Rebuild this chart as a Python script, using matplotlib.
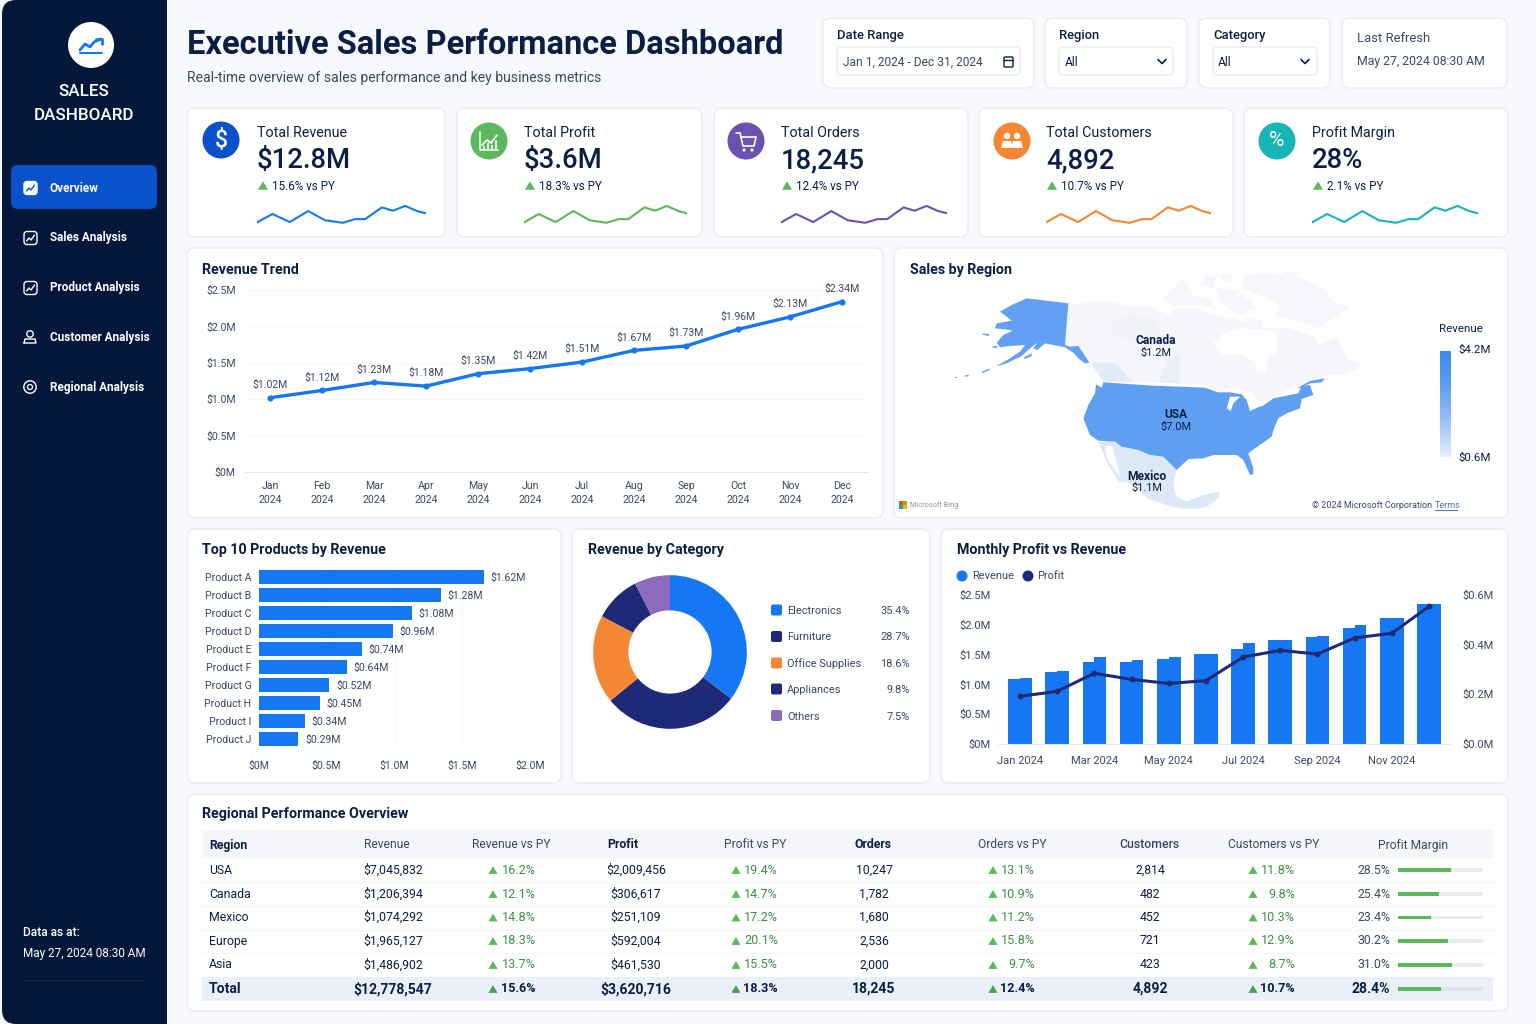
import numpy as np
import matplotlib
matplotlib.use('Agg')
import matplotlib.pyplot as plt
from matplotlib.patches import FancyBboxPatch, Circle, Polygon, Rectangle
from matplotlib.colors import LinearSegmentedColormap

plt.rcParams['font.family'] = ['Roboto', 'DejaVu Sans']

W = 1536
H = 1024

NAVY = '#0b1f45'
TEXT = '#3c4862'
BLUE = '#1677f2'
DARK = '#1e2a78'
GREEN = '#5cb85c'

# kpi cards
kpi_labels = ['Total Revenue', 'Total Profit', 'Total Orders', 'Total Customers', 'Profit Margin']
kpi_values = ['$12.8M', '$3.6M', '18,245', '4,892', '28%']
kpi_deltas = ['15.6% vs PY', '18.3% vs PY', '12.4% vs PY', '10.7% vs PY', '2.1% vs PY']
kpi_colors = [BLUE, '#5cb85c', '#6b52ae', '#f58634', '#17b5b5']
kpi_icon_colors = ['#0a52cc', '#5cb85c', '#6b52ae', '#f58634', '#17b5b5']
spark_x = [0, 46, 98, 153, 203, 256, 293, 323, 373, 406, 443, 478, 505]
spark_y = [7, 30, 8, 38, 13, 6, 16, 16, 48, 39, 52, 38, 32]

# revenue trend
months = ['Jan', 'Feb', 'Mar', 'Apr', 'May', 'Jun', 'Jul', 'Aug', 'Sep', 'Oct', 'Nov', 'Dec']
trend_values = [1.02, 1.12, 1.23, 1.18, 1.35, 1.42, 1.51, 1.67, 1.73, 1.96, 2.13, 2.34]
trend_ticks = [0, 0.5, 1.0, 1.5, 2.0, 2.5]
trend_tick_labels = ['$0M', '$0.5M', '$1.0M', '$1.5M', '$2.0M', '$2.5M']

# top products
products = ['Product A', 'Product B', 'Product C', 'Product D', 'Product E',
            'Product F', 'Product G', 'Product H', 'Product I', 'Product J']
product_bars = [1.66, 1.34, 1.13, 0.99, 0.76, 0.65, 0.52, 0.45, 0.34, 0.29]
product_labels = ['$1.62M', '$1.28M', '$1.08M', '$0.96M', '$0.74M',
                  '$0.64M', '$0.52M', '$0.45M', '$0.34M', '$0.29M']
product_ticks = [0, 0.5, 1.0, 1.5, 2.0]
product_tick_labels = ['$0M', '$0.5M', '$1.0M', '$1.5M', '$2.0M']

# category donut
categories = ['Electronics', 'Furniture', 'Office Supplies', 'Appliances', 'Others']
category_share = [35.4, 28.7, 18.6, 9.8, 7.5]
category_colors = [BLUE, DARK, '#f58634', DARK, '#8e6bbf']

# monthly profit vs revenue, the bars have a small step on top
revenue_left = [1.09, 1.20, 1.38, 1.37, 1.43, 1.51, 1.60, 1.74, 1.80, 1.95, 2.12, 2.35]
revenue_right = [1.11, 1.22, 1.46, 1.41, 1.46, 1.51, 1.70, 1.75, 1.81, 2.00, 2.12, 2.35]
profit = [0.192, 0.212, 0.285, 0.260, 0.244, 0.255, 0.350, 0.377, 0.362, 0.427, 0.446, 0.554]
monthly_left_labels = ['$0M', '$0.5M', '$1.0M', '$1.5M', '$2.0M', '$2.5M']
monthly_right_labels = ['$0.0M', '$0.2M', '$0.4M', '$0.6M']

# table
table_regions = ['USA', 'Canada', 'Mexico', 'Europe', 'Asia', 'Total']
table_revenue = ['$7,045,832', '$1,206,394', '$1,074,292', '$1,965,127', '$1,486,902', '$12,778,547']
table_rev_py = ['16.2%', '12.1%', '14.8%', '18.3%', '13.7%', '15.6%']
table_profit = ['$2,009,456', '$306,617', '$251,109', '$592,004', '$461,530', '$3,620,716']
table_profit_py = ['19.4%', '14.7%', '17.2%', '20.1%', '15.5%', '18.3%']
table_orders = ['10,247', '1,782', '1,680', '2,536', '2,000', '18,245']
table_orders_py = ['13.1%', '10.9%', '11.2%', '15.8%', '9.7%', '12.4%']
table_customers = ['2,814', '482', '452', '721', '423', '4,892']
table_customers_py = ['11.8%', '9.8%', '10.3%', '12.9%', '8.7%', '10.7%']
table_margin = ['28.5%', '25.4%', '23.4%', '30.2%', '31.0%', '28.4%']
margin_fill = [0.62, 0.485, 0.39, 0.59, 0.635, 0.51]

# map outlines, three crops with their own origin
alaska_shape = [(230,85),(355,100),(345,225),(360,230),(385,228),(400,250),(418,278),(405,280),(385,265),(370,248),
                (345,232),(310,225),(285,220),(262,240),(250,235),(262,218),(240,235),(215,258),(170,280),(135,290),
                (175,268),(210,245),(225,225),(180,228),(150,232),(140,218),(160,195),(188,182),(165,178),(135,175),
                (140,160),(185,152),(170,140),(150,125),(185,105)]
alaska_islands = [[(98,190),(118,193),(116,198),(98,194)],
                  [(222,262),(245,250),(245,258),(224,267)],
                  [(95,305),(118,296),(119,300),(97,309)],
                  [(127,230),(142,227),(142,233),(128,234)],
                  [(15,321),(22,321),(22,325),(15,325)],
                  [(44,316),(56,315),(56,319),(44,320)]]
canada_shape = [(25,118),(90,110),(150,108),(210,125),(270,125),(330,150),(350,130),(400,130),(460,150),(500,160),
                (560,170),(590,185),(650,190),(690,190),(760,215),(775,240),(830,215),(860,280),(900,295),(895,310),
                (850,330),(800,330),(740,350),(700,370),(650,385),(610,415),(580,400),(520,380),(470,375),(430,360),
                (290,352),(130,350),(85,290),(50,250),(15,240)]
hudson_shape = [(460,235),(490,205),(540,190),(620,195),(650,200),(650,260),(620,280),(620,320),(590,325),(585,290),
                (540,270),(480,270)]
arctic_shapes = [[(310,100),(370,40),(400,90),(440,100),(470,130),(410,120),(340,120)],
                 [(430,40),(470,30),(460,70),(420,60)],
                 [(470,70),(530,75),(590,130),(540,150),(480,110)],
                 [(545,40),(590,25),(700,30),(790,70),(820,110),(870,130),(800,170),(780,190),(720,170),(650,150),
                  (660,120),(600,90),(550,70)],
                 [(480,30),(520,25),(510,50),(490,50)],
                 [(670,20),(715,25),(690,35)],
                 [(560,160),(610,165),(600,185),(570,190)]]
bc_shape = [(95,295),(165,295),(218,352),(130,350)]
sask_shape = [(295,352),(325,280),(362,265),(358,355)]
alberta_shape = [(150,175),(210,150),(290,165),(300,200),(240,240),(160,210)]
usa_shape = [(78,28),(95,38),(100,22),(250,32),(405,38),(445,52),(490,42),(545,55),(575,95),(610,70),
             (650,62),(685,55),(695,32),(720,30),(730,60),(695,72),(690,100),(650,115),(625,130),(610,165),
             (605,185),(555,220),(535,235),(550,280),(550,298),(540,300),(520,255),(500,240),(430,240),(400,250),
             (355,252),(320,285),(300,265),(280,245),(240,240),(205,225),(155,215),(135,200),(85,197),(60,180),
             (40,130),(55,90),(75,55)]
lawrence_shape = [(680,40),(720,18),(765,10),(755,22),(720,25),(690,38)]
lake_shapes = [[(480,65),(510,65),(490,85),(482,108),(470,100)],
               [(445,52),(490,38),(550,55),(575,92),(540,108),(530,75),(515,58),(480,52)]]
mexico_shape = [(85,200),(135,200),(155,215),(205,225),(240,240),(280,245),(300,265),(320,285),(310,330),(320,365),
                (350,380),(400,360),(450,350),(445,370),(410,395),(380,402),(330,400),(290,390),(230,370),(200,340),
                (170,320),(145,320),(110,260)]
baja_gap = [(105,213),(125,213),(140,260),(150,305),(130,280),(110,245)]

colorbar_colors = ['#e6eef9', '#9ac3f5', '#5f9ff2', '#3b8bec']

fig = plt.figure(figsize=(W / 100, H / 100), dpi=100, facecolor='#f7f9fc')
bg = fig.add_axes([0, 0, 1, 1])
bg.set_xlim(0, W)
bg.set_ylim(H, 0)
bg.axis('off')


def txt(x, y, s, px, color=NAVY, ha='left', weight='normal', **kw):
    return bg.text(x, y + 1, s, fontsize=px * 0.72, color=color, ha=ha, va='center', fontweight=weight, **kw)


def box(x0, y0, x1, y1, r=8, fc='white', ec='#e8ecf3', lw=1.0, z=1):
    p = FancyBboxPatch((x0 + r, y0 + r), x1 - x0 - 2 * r, y1 - y0 - 2 * r,
                       boxstyle='round,pad=%d,rounding_size=%d' % (r, r),
                       fc=fc, ec=ec, lw=lw, zorder=z)
    bg.add_patch(p)
    return p


def px_axes(left, top, right, bottom):
    a = fig.add_axes([left / W, 1 - bottom / H, (right - left) / W, (bottom - top) / H])
    a.patch.set_alpha(0)
    return a


def tri(x, y, size=5, color=GREEN):
    bg.add_patch(Polygon([(x - size, y + size * 0.85), (x + size, y + size * 0.85), (x, y - size * 0.85)],
                         fc=color, ec='none', zorder=4))


def line(xs, ys, color='white', lw=1.4, z=5):
    bg.plot(xs, ys, color=color, lw=lw, zorder=z, solid_capstyle='round', solid_joinstyle='round')


# sidebar
box(2, 0, 40, 1024, r=14, fc='#03173a', ec='none')
bg.add_patch(Rectangle((20, 0), 147, 1024, fc='#03173a', ec='none', zorder=1))
bg.add_patch(Circle((91, 45), 23, fc='white', ec='none', zorder=3))
line([80, 85, 90, 94, 101], [50, 44, 47, 42, 39], BLUE, 2)
line([96, 102, 102], [38.5, 38.5, 44], BLUE, 2)
line([80, 102], [52.5, 52.5], BLUE, 1.5)
txt(84, 91, 'SALES', 17, 'white', 'center', 'medium')
txt(84, 114, 'DASHBOARD', 17, 'white', 'center', 'medium')
box(11, 165, 157, 209, r=7, fc='#0a52cc', ec='none', z=2)
nav_items = ['Overview', 'Sales Analysis', 'Product Analysis', 'Customer Analysis', 'Regional Analysis']
nav_y = [187, 237, 287, 336, 386]
for i in range(5):
    txt(49.5, nav_y[i], nav_items[i], 11.7, 'white', weight='semibold', zorder=5)
    yc = nav_y[i] + 1
    if i == 3:
        bg.add_patch(Circle((30, yc - 3), 3.2, fc='none', ec='white', lw=1, zorder=5))
        line([24, 25, 35, 36, 24], [yc + 6, yc + 2, yc + 2, yc + 6, yc + 6], 'white', 1)
    elif i == 4:
        bg.add_patch(Circle((30, yc), 6.2, fc='none', ec='white', lw=1, zorder=5))
        bg.add_patch(Circle((30, yc), 2.5, fc='none', ec='white', lw=0.9, zorder=5))
    else:
        box(24, yc - 6.5, 37, yc + 6.5, r=3, fc='white' if i == 0 else 'none', ec='white', lw=1, z=5)
        c = '#0a52cc' if i == 0 else 'white'
        line([26.5, 29, 31, 34.5], [yc + 3, yc, yc + 2, yc - 3], c, 1, 6)
txt(23, 931, 'Data as at:', 12, 'white', weight='medium')
txt(23, 952, 'May 27, 2024 08:30 AM', 11.7, 'white')
line([23, 145], [980, 980], '#12264a', 0.8, 2)

# header
txt(187, 44, 'Executive Sales Performance Dashboard', 32.6, '#0b1f45', weight='bold')
txt(187, 77, 'Real-time overview of sales performance and key business metrics', 14, TEXT)

# filters
box(823, 18, 1034, 88)
box(1045, 18, 1187, 88)
box(1199, 18, 1330, 88)
box(1342, 18, 1507, 88)
txt(837, 34, 'Date Range', 13, NAVY, weight='medium', zorder=5)
txt(1059, 34, 'Region', 13, NAVY, weight='medium', zorder=5)
txt(1213, 34, 'Category', 13, NAVY, weight='medium', zorder=5)
box(837, 47, 1020, 75, r=4, z=2)
box(1059, 47, 1173, 75, r=4, z=2)
box(1213, 47, 1317, 75, r=4, z=2)
txt(843, 61, 'Jan 1, 2024 - Dec 31, 2024', 12, TEXT, zorder=5)
txt(1065, 61, 'All', 12, NAVY, zorder=5)
txt(1218, 61, 'All', 12, NAVY, zorder=5)
for cx in [1162, 1305]:
    line([cx - 4, cx, cx + 4], [59.5, 63.5, 59.5], NAVY, 1.2)
box(1004, 57, 1013, 67, r=1, fc='none', ec=NAVY, lw=1, z=5)
line([1004, 1013], [59.5, 59.5], NAVY, 1)
txt(1357, 37, 'Last Refresh', 13, TEXT, zorder=5)
txt(1357, 60.5, 'May 27, 2024 08:30 AM', 12.3, TEXT, zorder=5)

# kpi cards
kpi_box = [(187, 445), (457, 702), (714, 968), (979, 1233), (1244, 1508)]
kpi_text_x = [257, 524, 781, 1046, 1312]
kpi_icon_x = [221, 489, 746, 1012, 1277]
spark_right = [426, 687, 947, 1211, 1478]
for i in range(5):
    box(kpi_box[i][0], 108, kpi_box[i][1], 237)
    bg.add_patch(Circle((kpi_icon_x[i], 141 if i else 140), 18.5, fc=kpi_icon_colors[i], ec='none', zorder=3))
    x = kpi_text_x[i]
    txt(x, 132, kpi_labels[i], 14.2, NAVY, zorder=5)
    txt(x, 159.5, kpi_values[i], 27.5, NAVY, weight='medium', zorder=5)
    tri(x + 6, 185.5)
    txt(x + 15, 185, kpi_deltas[i], 11.6, NAVY, zorder=5)
    sp = px_axes(x, 203, spark_right[i], 225)
    sp.plot(spark_x, spark_y, color=kpi_colors[i], lw=1.5)
    sp.set_xlim(0, 505)
    sp.set_ylim(0, 60)
    sp.axis('off')

cx = kpi_icon_x[0]
txt(cx, 140, '$', 23, 'white', 'center', 'medium', zorder=6)
cx = kpi_icon_x[1]
line([cx - 9, cx - 9, cx + 9], [132, 150, 150], 'white', 1.1, 6)
line([cx - 7, cx - 2, cx + 2, cx + 8], [145, 140, 143, 135], 'white', 1.3, 6)
for k, h in enumerate([3, 6, 4, 9]):
    bg.add_patch(Rectangle((cx - 6 + k * 4, 149 - h), 2.4, h, fc='white', ec='none', alpha=0.8, zorder=6))
cx = kpi_icon_x[2]
line([cx - 10, cx - 6, cx - 3, cx + 8, cx + 10, cx - 5], [133, 133, 146, 146, 137, 137], 'white', 1.2, 6)
bg.add_patch(Circle((cx - 2, 150), 1.6, fc='white', zorder=6))
bg.add_patch(Circle((cx + 6, 150), 1.6, fc='white', zorder=6))
cx = kpi_icon_x[3]
for dx in [-5, 5]:
    bg.add_patch(Circle((cx + dx, 136), 3.2, fc='white', zorder=6))
    bg.add_patch(Polygon([(cx + dx - 6, 148), (cx + dx - 4, 141), (cx + dx + 4, 141), (cx + dx + 6, 148)], fc='white', zorder=6))
txt(kpi_icon_x[4], 140, '%', 21, 'white', 'center', zorder=6)

# panels
box(187, 248, 883, 518)
box(894, 248, 1508, 518)
box(187, 529, 561, 783)
box(572, 529, 930, 783)
box(941, 529, 1508, 783)
box(187, 794, 1508, 1011)
txt(202, 269, 'Revenue Trend', 14.2, NAVY, weight='bold', zorder=5)
txt(910, 269, 'Sales by Region', 14.2, NAVY, weight='bold', zorder=5)
txt(202, 549, 'Top 10 Products by Revenue', 14.2, NAVY, weight='bold', zorder=5)
txt(588, 549, 'Revenue by Category', 14.2, NAVY, weight='bold', zorder=5)
txt(957, 549, 'Monthly Profit vs Revenue', 14.2, NAVY, weight='bold', zorder=5)
txt(202, 813, 'Regional Performance Overview', 14.2, NAVY, weight='bold', zorder=5)

# revenue trend
ax = px_axes(244, 290, 868, 472)
xpos = np.arange(12)
ax.plot(xpos, trend_values, color=BLUE, lw=2.4, marker='o', ms=3.4)
for i in range(12):
    ax.annotate('$%.2fM' % trend_values[i], (xpos[i], trend_values[i]), xytext=(0, 5.5),
                textcoords='offset points', ha='center', va='bottom', fontsize=7.5, color=TEXT)
ax.set_xlim(-0.5, 11.5)
ax.set_ylim(0, 2.5)
ax.set_yticks(trend_ticks)
ax.set_yticklabels(trend_tick_labels)
ax.set_xticks(xpos)
ax.set_xticklabels([m + '\n2024' for m in months], linespacing=1.45)
ax.tick_params(length=0, labelsize=7.6, labelcolor=TEXT)
ax.tick_params(axis='y', pad=6)
ax.tick_params(axis='x', pad=6.5)
ax.grid(axis='y', color='#f5f7f9', lw=0.8)
ax.set_axisbelow(True)
for s in ['top', 'left', 'right']:
    ax.spines[s].set_visible(False)
ax.spines['bottom'].set_color('#e3e7ee')


# map
def map_poly(shape, origin, color, z=2):
    pts = [(origin[0] + p[0] / 3.0, origin[1] + p[1] / 3.0) for p in shape]
    bg.add_patch(Polygon(pts, closed=True, fc=color, ec='none', zorder=z))


crop_alaska = (950, 270)
crop_canada = (1060, 265)
crop_usa = (1070, 375)
map_poly(canada_shape, crop_canada, '#f4f6f9')
map_poly(hudson_shape, crop_canada, 'white', 3)
for shape in arctic_shapes:
    map_poly(shape, crop_canada, '#f6f7fa')
map_poly(alberta_shape, crop_canada, '#f0f2f7', 3)
map_poly(bc_shape, crop_canada, '#e3ebf7', 3)
map_poly(sask_shape, crop_canada, '#ebf0f8', 3)
map_poly(mexico_shape, crop_usa, '#dde8f6')
map_poly(baja_gap, crop_usa, 'white', 3)
map_poly(usa_shape, crop_usa, '#5f9ff2', 3)
map_poly(lawrence_shape, crop_usa, '#5f9ff2', 3)
for shape in lake_shapes:
    map_poly(shape, crop_usa, 'white', 4)
map_poly(alaska_shape, crop_alaska, '#639ff3', 3)
for shape in alaska_islands:
    map_poly(shape, crop_alaska, '#639ff3', 3)
txt(1156, 340, 'Canada', 12, NAVY, 'center', 'semibold', zorder=6)
txt(1156, 351.5, '$1.2M', 11, NAVY, 'center', zorder=6)
txt(1176, 414, 'USA', 12, NAVY, 'center', 'semibold', zorder=6)
txt(1176, 426, '$7.0M', 11, NAVY, 'center', zorder=6)
txt(1147, 475, 'Mexico', 12, NAVY, 'center', 'semibold', zorder=6)
txt(1147, 487, '$1.1M', 11, NAVY, 'center', zorder=6)
txt(1439, 328, 'Revenue', 11.5, NAVY, zorder=6)
txt(1458, 349, '$4.2M', 11.5, NAVY, zorder=6)
txt(1458, 457, '$0.6M', 11.5, NAVY, zorder=6)
cb = px_axes(1440, 351, 1451, 457)
cmap = LinearSegmentedColormap.from_list('rev', colorbar_colors)
cb.imshow(np.linspace(1, 0, 100).reshape(-1, 1), aspect='auto', cmap=cmap)
cb.axis('off')
logo_colors = ['#f25022', '#7fba00', '#00a4ef', '#ffb900']
for k in range(4):
    bg.add_patch(Rectangle((899 + (k % 2) * 4.4, 501 + (k // 2) * 4.4), 4, 4, fc=logo_colors[k], ec='none', zorder=5))
txt(910, 504, 'Microsoft Bing', 7.4, '#8a93a5', zorder=5)
txt(1312, 504, '\u00a9 2024 Microsoft Corporation', 9, TEXT, zorder=5)
txt(1435, 504, 'Terms', 9, '#4a6fc0', zorder=5)
line([1435, 1457], [510, 510], '#4a6fc0', 0.7)

# top products
ax = px_axes(259, 568, 530, 748)
ypos = np.arange(10)
ax.barh(ypos, product_bars, height=0.75, color=BLUE)
for i in range(10):
    ax.text(product_bars[i] + 0.05, ypos[i] + 0.05, product_labels[i], va='center', fontsize=7.6, color=TEXT)
ax.set_ylim(9.5, -0.5)
ax.set_xlim(0, 2.0)
ax.set_yticks(ypos)
ax.set_yticklabels(products)
ax.set_xticks(product_ticks)
ax.set_xticklabels(product_tick_labels)
ax.tick_params(length=0, labelsize=7.6, labelcolor=TEXT)
ax.tick_params(axis='y', pad=5.5)
ax.tick_params(axis='x', pad=9.5)
ax.grid(axis='x', color='#f5f7f9', lw=0.8)
ax.set_axisbelow(True)
for s in ax.spines.values():
    s.set_visible(False)

# donut
ax = px_axes(590, 572, 750, 732)
ax.pie(category_share, colors=category_colors, startangle=90, counterclock=False, radius=0.96,
       wedgeprops={'width': 0.44})
ax.set_xlim(-1, 1)
ax.set_ylim(-1, 1)
legend_y = [610, 636.5, 663, 689, 715.5]
for i in range(5):
    box(771, legend_y[i] - 5.5, 782, legend_y[i] + 5.5, r=2, fc=category_colors[i], ec='none', z=4)
    txt(787, legend_y[i], categories[i], 11, TEXT, zorder=5)
    txt(910, legend_y[i], '%.1f%%' % category_share[i], 11, TEXT, 'right', zorder=5)

# monthly
ax = px_axes(998, 595, 1451, 744)
w = 0.634
ax.bar(xpos - w / 4, revenue_left, width=w / 2, color=BLUE)
ax.bar(xpos + w / 4, revenue_right, width=w / 2, color=BLUE)
ax.set_xlim(-0.59, 11.59)
ax.set_ylim(0, 2.5)
ax.set_yticks(trend_ticks)
ax.set_yticklabels(monthly_left_labels)
ax.set_xticks(xpos[::2])
ax.set_xticklabels([months[i] + ' 2024' for i in range(0, 12, 2)])
ax.tick_params(length=0, labelsize=8, labelcolor=TEXT)
ax.tick_params(axis='y', pad=5.5)
ax.tick_params(axis='x', pad=8.5)
for s in ['top', 'left', 'right']:
    ax.spines[s].set_visible(False)
ax.spines['bottom'].set_color('#e3e7ee')
ax2 = ax.twinx()
ax2.plot(xpos, profit, color=DARK, lw=2.2, marker='o', ms=3.2)
ax2.set_ylim(0, 0.6)
ax2.set_yticks([0, 0.2, 0.4, 0.6])
ax2.set_yticklabels(monthly_right_labels)
ax2.tick_params(length=0, labelsize=8, labelcolor=TEXT, pad=8.5)
for s in ax2.spines.values():
    s.set_visible(False)
bg.add_patch(Circle((962, 576), 5.5, fc=BLUE, ec='none', zorder=5))
bg.add_patch(Circle((1028, 576), 5.5, fc=DARK, ec='none', zorder=5))
txt(972, 575, 'Revenue', 11, TEXT, zorder=5)
txt(1037, 575, 'Profit', 11, TEXT, zorder=5)

# table
bg.add_patch(Rectangle((202, 830), 1291, 28, fc='#f4f6fa', ec='none', zorder=2))
bg.add_patch(Rectangle((202, 977), 1291, 24, fc='#e9f0fa', ec='none', zorder=2))
row_y = [870, 894, 917.5, 941, 965, 989]
for y in row_y[:4]:
    line([202, 1493], [y + 12, y + 12], '#f2f4f8', 0.8, 2)
txt(209, 844, 'Region', 12.3, NAVY, weight='bold', zorder=5)
txt(387, 844, 'Revenue', 12, TEXT, 'center', zorder=5)
txt(511, 844, 'Revenue vs PY', 12, TEXT, 'center', zorder=5)
txt(623, 844, 'Profit', 12.3, NAVY, 'center', 'bold', zorder=5)
txt(755, 844, 'Profit vs PY', 12, TEXT, 'center', zorder=5)
txt(873, 844, 'Orders', 12.3, NAVY, 'center', 'bold', zorder=5)
txt(1012, 844, 'Orders vs PY', 12, TEXT, 'center', zorder=5)
txt(1149, 844, 'Customers', 12.3, TEXT, 'center', 'medium', zorder=5)
txt(1274, 844, 'Customers vs PY', 12, TEXT, 'center', zorder=5)
txt(1413, 844, 'Profit Margin', 12, TEXT, 'center', zorder=5)
for i in range(6):
    y = row_y[i]
    total = i == 5
    weight = 'bold' if total else 'normal'
    px = 14 if total else 12.3
    col = NAVY
    pct_col = NAVY if total else '#3f8f48'
    txt(209, y - 1, table_regions[i], px, col, weight=weight, zorder=5)
    txt(393, y - 1, table_revenue[i], px, col, 'center', weight, zorder=5)
    txt(636, y - 1, table_profit[i], px, col, 'center', weight, zorder=5)
    txt(874, y - 1, table_orders[i], px, col, 'center', weight, zorder=5)
    txt(1150, y - 1, table_customers[i], px, col, 'center', weight, zorder=5)
    pct_cols = [(493, 536, table_rev_py), (736, 778, table_profit_py),
                (993, 1035, table_orders_py), (1253, 1295, table_customers_py)]
    for tx, rx, vals in pct_cols:
        tri(tx, y, 4.6, '#4f9e55' if total else GREEN)
        txt(rx, y - 1, vals[i], 12.6, pct_col, 'right', weight, zorder=5)
    txt(1390, y - 1, table_margin[i], px, col if total else TEXT, 'right', weight, zorder=5)
    bg.add_patch(Rectangle((1398, y - 1.8), 85, 3.6, fc='#dfe3ea' if total else '#e8ebf0', ec='none', zorder=4))
    bg.add_patch(Rectangle((1398, y - 1.8), 85 * margin_fill[i], 3.6, fc=GREEN, ec='none', zorder=5))

fig.savefig('out.png', dpi=100, facecolor=fig.get_facecolor())
